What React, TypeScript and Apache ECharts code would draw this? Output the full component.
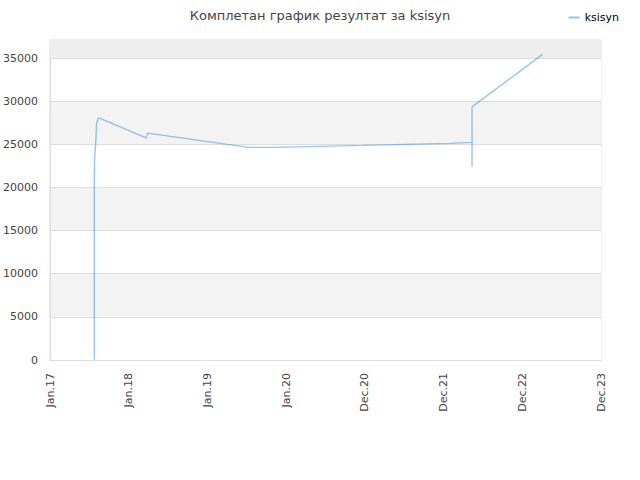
import React, { useEffect, useRef } from 'react';
import * as echarts from 'echarts';

// tick labels on the x axis (evenly spaced from Jan.17 to Dec.23)
const tickLabels = ['Jan.17', 'Jan.18', 'Jan.19', 'Jan.20', 'Dec.20', 'Dec.21', 'Dec.22', 'Dec.23'];
const axisStart = '2017-01-01';
const axisEnd = '2023-12-01';

const dates = [
  '2017-07-23', '2017-07-23', '2017-07-23', '2017-07-23', '2017-07-23', '2017-07-23', '2017-07-23',
  '2017-07-24', '2017-07-30', '2017-08-02', '2017-08-09', '2017-08-16',
  '2018-03-18', '2018-03-24',
  '2019-06-30', '2019-10-23', '2020-05-13', '2020-12-01', '2021-06-20', '2022-01-08',
  '2022-04-19', '2022-04-19', '2022-04-19',
  '2023-03-08',
];
const scores = [
  0, 21300, 16500, 20800, 18000, 20500, 21000,
  23200, 25400, 27300, 28000, 28050,
  25760, 26300,
  24650, 24650, 24770, 24880, 25000, 25115,
  25230, 22400, 29350,
  35430,
];

const seriesName = 'ksisyn';
const titleText = 'Комплетан график резултат за ksisyn';

const t0 = Date.parse(axisStart);
const step = (Date.parse(axisEnd) - t0) / (tickLabels.length - 1);
const toX = (d: string) => (Date.parse(d) - t0) / step;

export default function App() {
  const ref = useRef<HTMLDivElement | null>(null);

  useEffect(() => {
    document.body.style.margin = '0';
    if (!ref.current) return;
    const chart = echarts.init(ref.current, undefined, { renderer: 'svg' });
    const font = 'DejaVu Sans, sans-serif';
    chart.setOption({
      animation: false,
      textStyle: { fontFamily: font },
      title: {
        text: titleText, left: 'center', top: 4,
        textStyle: { fontSize: 13, fontWeight: 'normal', color: '#444', fontFamily: font },
      },
      legend: {
        data: [seriesName], right: 16, top: 7, itemWidth: 11, itemHeight: 2, icon: 'rect', itemGap: 10,
        textStyle: { fontSize: 11, color: '#000', fontFamily: font },
      },
      grid: { left: 50, right: 39, top: 40, bottom: 120, show: true, borderColor: '#dddddd', borderWidth: 1 },
      xAxis: {
        type: 'value', min: 0, max: tickLabels.length - 1, interval: 1,
        axisLine: { show: true, lineStyle: { color: '#dddddd' } },
        axisTick: { show: false },
        splitLine: { show: false },
        axisLabel: {
          rotate: 90, margin: 13, fontSize: 11, color: '#444', fontFamily: font,
          formatter: (v: number) => tickLabels[Math.round(v)] ?? '',
        },
      },
      yAxis: {
        type: 'value', min: 0, max: 37100, interval: 5000,
        axisLine: { show: true, lineStyle: { color: '#dddddd' } },
        axisTick: { show: false },
        splitLine: { show: true, lineStyle: { color: '#dddddd' } },
        splitArea: { show: true, areaStyle: { color: ['#ffffff', '#f3f3f3'] } },
        axisLabel: {
          margin: 12, fontSize: 11, color: '#444', fontFamily: font,
          formatter: (v: number) => (v % 5000 === 0 ? String(v) : ''),
        },
      },
      series: [{
        name: seriesName,
        type: 'line',
        data: dates.map((d, i) => [toX(d), scores[i]]),
        showSymbol: false,
        symbol: 'none',
        color: '#92c3f2',
        lineStyle: { color: 'rgba(45,140,235,0.5)', width: 1.4 },
        markArea: {
          silent: true,
          itemStyle: { color: '#eeeeee' },
          data: [[{ yAxis: 35000 }, { yAxis: 37100 }]],
        },
      }],
    });
    return () => { chart.dispose(); };
  }, []);

  return <div ref={ref} style={{ width: 640, height: 480 }} />;
}
